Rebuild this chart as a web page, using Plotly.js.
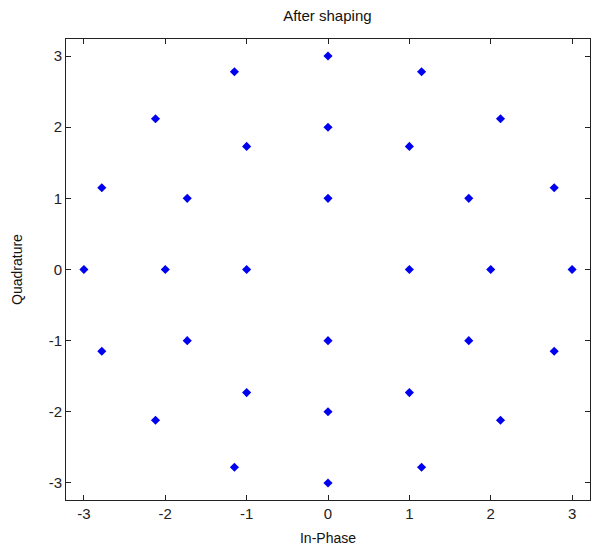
<!DOCTYPE html>
<html><head><meta charset="utf-8">
<script src="https://cdn.plot.ly/plotly-3.0.1.min.js"></script>
<style>html,body{margin:0;padding:0;background:#fff}</style>
</head><body>
<div id="chart" style="width:592px;height:549px"></div>
<script>
// In-phase values of received symbols
const inPhase = [
  0, 1.15, 2.12, 2.78, 3, 2.78, 2.12, 1.15, 0, -1.15, -2.12, -2.78, -3, -2.78, -2.12, -1.15,
  0, 1, 1.73, 2, 1.73, 1, 0, -1, -1.73, -2, -1.73, -1,
  0, 1, 0, -1
];
// Quadrature values
const quadrature = [
  3, 2.78, 2.12, 1.15, 0, -1.15, -2.12, -2.78, -3, -2.78, -2.12, -1.15, 0, 1.15, 2.12, 2.78,
  2, 1.73, 1, 0, -1, -1.73, -2, -1.73, -1, 0, 1, 1.73,
  1, 0, -1, 0
];
const tickVals = [-3, -2, -1, 0, 1, 2, 3];
const tickText = ['-3', '-2', '-1', '0', '1', '2', '3'];

const FONT = 'Liberation Sans, Arial, sans-serif';
const axisCommon = {
  showgrid: false, zeroline: false, showline: true, mirror: 'ticks',
  linecolor: '#222', linewidth: 1, ticks: 'inside', ticklen: 5, tickcolor: '#222',
  tickvals: tickVals, ticktext: tickText,
  tickfont: {family: FONT, size: 15, color: '#222'}
};

Plotly.newPlot('chart', [{
  x: inPhase, y: quadrature, type: 'scatter', mode: 'markers',
  marker: {symbol: 'diamond', size: 7, color: '#0000f0'}
}], {
  width: 592, height: 549,
  margin: {l: 66, r: 2, t: 39, b: 49},
  paper_bgcolor: '#fff', plot_bgcolor: '#fff',
  showlegend: false,
  title: {text: 'After shaping', x: 0.553, xanchor: 'center', y: 0.98, yanchor: 'top',
    font: {family: FONT, size: 15, color: '#111'}},
  xaxis: Object.assign({}, axisCommon, {range: [-3.22, 3.22],
    title: {text: 'In-Phase', standoff: 12, font: {family: FONT, size: 14, color: '#111'}}}),
  yaxis: Object.assign({}, axisCommon, {range: [-3.24, 3.24],
    title: {text: 'Quadrature', standoff: 22, font: {family: FONT, size: 14, color: '#111'}}})
}, {displayModeBar: false, staticPlot: true});
</script>
</body></html>
